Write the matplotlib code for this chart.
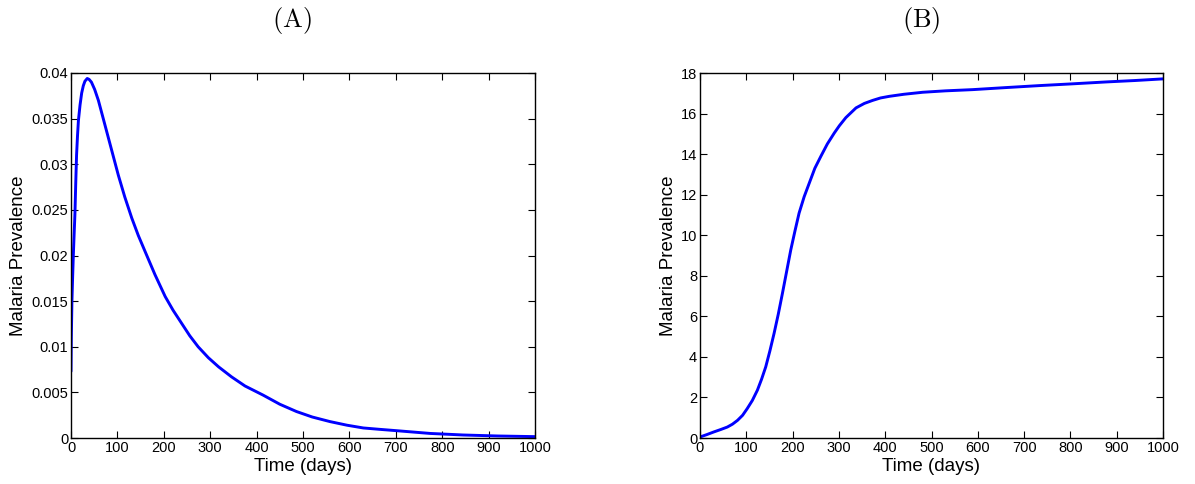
import matplotlib
matplotlib.use("Agg")
import matplotlib.pyplot as plt

# Panel A data (days, prevalence)
time_a = [0, 0.7, 2, 3.5, 5, 6.8, 8.5, 10.2, 12, 14, 16, 19.5, 23, 26.5, 30, 35, 39,
          44, 51, 59, 69, 80, 91, 102, 116, 131, 145, 160, 181, 203, 220, 238, 256,
          274, 296, 318, 346, 375, 414, 450, 486, 520, 558, 595, 630, 665, 702, 774,
          845, 920, 1000]
prev_a = [0.0073, 0.0110, 0.0150, 0.0176, 0.0200, 0.0224, 0.0246, 0.0279, 0.0310,
          0.0331, 0.0348, 0.0365, 0.0378, 0.0386, 0.0391, 0.0394, 0.0393, 0.0390,
          0.0382, 0.0370, 0.0351, 0.0330, 0.0309, 0.0288, 0.0264, 0.0241, 0.0222,
          0.0204, 0.0179, 0.0155, 0.0140, 0.0126, 0.0112, 0.0100, 0.0088, 0.0078,
          0.0067, 0.0057, 0.0047, 0.0037, 0.0029, 0.0023, 0.0018, 0.0014, 0.0011,
          0.00095, 0.0008, 0.0005, 0.00033, 0.00022, 0.00015]

# Panel B data (days, prevalence)
time_b = [0, 15, 30, 45, 59, 70, 81, 92, 102, 113, 124, 133, 142, 151, 160, 169, 178,
          187, 196, 205, 214, 225, 236, 248, 261, 275, 290, 301, 315, 337, 355, 373,
          390, 409, 440, 481, 530, 589, 660, 734, 800, 878, 940, 1000]
prev_b = [0.05, 0.17, 0.30, 0.42, 0.54, 0.68, 0.87, 1.12, 1.45, 1.85, 2.36, 2.90,
          3.51, 4.30, 5.16, 6.10, 7.13, 8.20, 9.27, 10.20, 11.09, 11.90, 12.57, 13.30,
          13.89, 14.50, 15.04, 15.40, 15.80, 16.28, 16.50, 16.65, 16.77, 16.85, 16.95,
          17.05, 17.12, 17.18, 17.28, 17.38, 17.46, 17.56, 17.63, 17.71]

x_ticks = [0, 100, 200, 300, 400, 500, 600, 700, 800, 900, 1000]
y_ticks_a = [0, 0.005, 0.01, 0.015, 0.02, 0.025, 0.03, 0.035, 0.04]
y_labels_a = ["0", "0.005", "0.01", "0.015", "0.02", "0.025", "0.03", "0.035", "0.04"]
y_ticks_b = [0, 2, 4, 6, 8, 10, 12, 14, 16, 18]
titles = ["(A)", "(B)"]
xlabel = "Time (days)"
ylabel = "Malaria Prevalence"

plt.rcParams['font.family'] = ['Liberation Sans', 'DejaVu Sans']
plt.rcParams['mathtext.fontset'] = 'cm'

fig = plt.figure(figsize=(11.95, 4.84), dpi=100)
W, H = 1195, 484
axA = fig.add_axes([71 / W, (H - 438) / H, 464 / W, 365 / H])
axB = fig.add_axes([700 / W, (H - 438) / H, 463 / W, 365 / H])

for ax, t, v, yt, yl, ymax in [
    (axA, time_a, prev_a, y_ticks_a, y_labels_a, 0.04),
    (axB, time_b, prev_b, y_ticks_b, [str(y) for y in y_ticks_b], 18),
]:
    ax.plot(t, v, color='#0000ff', lw=2.1, solid_capstyle='round',
            solid_joinstyle='round')
    ax.set_xlim(0, 1000)
    ax.set_ylim(0, ymax)
    ax.set_xticks(x_ticks)
    ax.set_xticklabels([str(x) for x in x_ticks])
    ax.set_yticks(yt)
    ax.set_yticklabels(yl)
    ax.tick_params(direction='in', top=True, right=True, length=5, width=0.8,
                   labelsize=10.5, pad=2, colors='black')
    for s in ax.spines.values():
        s.set_linewidth(1.0)
    ax.set_xlabel(xlabel, fontsize=13.5, labelpad=2)
    ax.set_ylabel(ylabel, fontsize=13.5, labelpad=3)

fig.text(292 / W, 1 - 21 / H, r'$\mathrm{' + titles[0] + '}$', fontsize=19,
         ha='center', va='center')
fig.text(921 / W, 1 - 21 / H, r'$\mathrm{' + titles[1] + '}$', fontsize=19,
         ha='center', va='center')

fig.savefig("out.png", dpi=100)
